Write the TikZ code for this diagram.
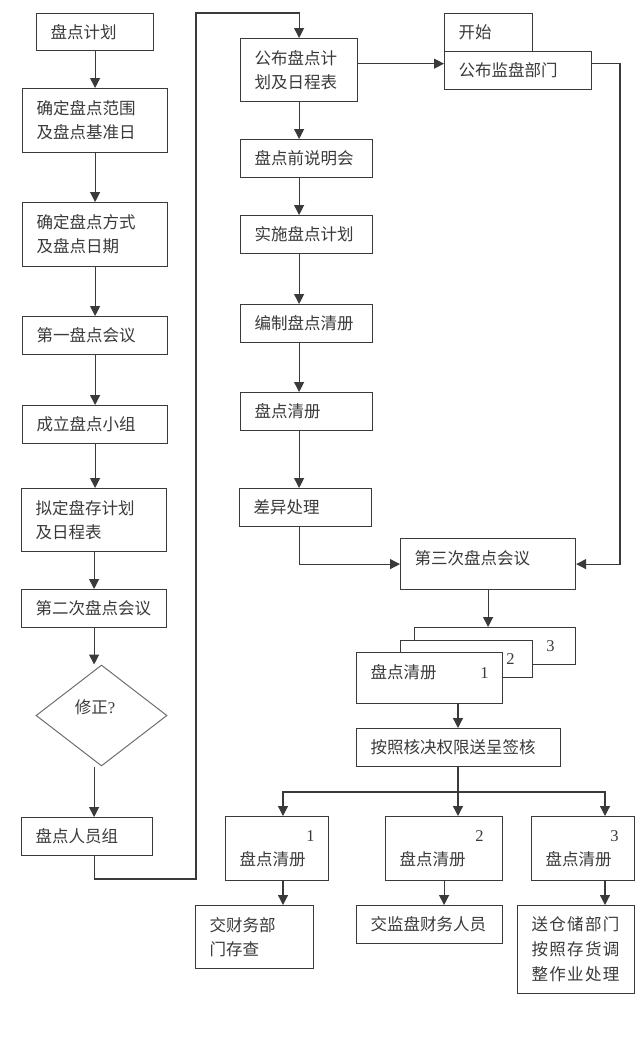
\documentclass[tikz,border=0pt]{standalone}
\usepackage{fontspec}
\setmainfont{Liberation Serif}
\newfontfamily\cjk{Noto Sans CJK SC}
\newfontfamily\cjksp[LetterSpace=8]{Noto Sans CJK SC}
\newfontfamily\dig{Liberation Serif}
\usetikzlibrary{arrows.meta,shapes.geometric,calc}
\definecolor{linec}{HTML}{3A3A3A}
\definecolor{textc}{HTML}{3A3A3A}
\definecolor{diac}{HTML}{6E6E6E}
\begin{document}
\begin{tikzpicture}[x=1pt,y=-1pt,
  box/.style={draw=linec, line width=1.2pt, fill=white, anchor=north west,
    inner xsep=14pt, inner ysep=0pt, align=left, text=textc,
    font=\fontsize{16.5}{24}\cjk},
  arr/.style={draw=linec, line width=1.2pt, -{Triangle[length=10pt,width=10pt]}},
  ln/.style={draw=linec, line width=1.2pt}]
\useasboundingbox (0,0) rectangle (640,1045);

% left column
\node[box, text width=89pt,  minimum height=37pt] (plan)  at (36,13)  {盘点计划};
\node[box, text width=117pt, minimum height=64pt] (range) at (22,88)  {确定盘点范围\\及盘点基准日};
\node[box, text width=117pt, minimum height=64pt] (mode)  at (22,202) {确定盘点方式\\及盘点日期};
\node[box, text width=117pt, minimum height=38pt] (meet1) at (22,316) {第一盘点会议};
\node[box, text width=117pt, minimum height=38pt] (group) at (22,405) {成立盘点小组};
\node[box, text width=117pt, minimum height=63pt] (draft) at (21,488) {拟定盘存计划\\及日程表};
\node[box, text width=117pt, minimum height=38pt] (meet2) at (21,589) {第二次盘点会议};
\node[draw=diac, line width=1pt, shape=diamond, minimum width=131pt, minimum height=101pt, inner sep=0pt] (dia) at (101.5,715.5) {};
\node[text=textc, font=\fontsize{16.5}{24}\cjk, inner sep=0pt] (diat) at (95,707) {修正{\dig ?}};
\node[box, text width=103pt, minimum height=38pt] (staff) at (21,817) {盘点人员组};

% middle column
\node[box, text width=89pt,  minimum height=63pt] (announce)  at (240,38)  {公布盘点计\\划及日程表};
\node[box, text width=104pt, minimum height=38pt] (brief)     at (240,139) {盘点前说明会};
\node[box, text width=104pt, minimum height=38pt] (implement) at (240,215) {实施盘点计划};
\node[box, text width=104pt, minimum height=38pt] (compile)   at (240,304) {编制盘点清册};
\node[box, text width=104pt, minimum height=38pt] (list)      at (240,392) {盘点清册};
\node[box, text width=104pt, minimum height=38pt] (diff)      at (239,488) {差异处理};

% right top
\node[box, text width=60pt,  minimum height=38pt] (start)     at (444,13) {开始};
\node[box, text width=119pt, minimum height=38pt] (supervise) at (444,51) {公布监盘部门};

\node[box, text width=147pt, minimum height=51pt, text height=13pt, text depth=13pt] (meet3) at (400,538) {第三次盘点会议};

% stacked lists
\node[box, text width=133pt, minimum height=37pt] (s3) at (414,627) {\hfill{\dig 3}\kern7pt};
\node[box, text width=104pt, minimum height=37pt] (s2) at (400,640) {\hfill{\dig 2}\kern4pt};
\node[box, text width=118pt, minimum height=51pt, text height=13pt, text depth=13pt] (s1) at (356,652) {盘点清册\hfill{\dig 1}};

\node[box, text width=176pt, minimum height=38pt] (approve) at (356,728) {按照核决权限送呈签核};

% three copies
\node[box, text width=75pt, minimum height=64pt] (c1) at (225,816) {\hfill{\dig 1}\\盘点清册};
\node[box, text width=89pt, minimum height=64pt] (c2) at (385,816) {\hfill{\dig 2}\kern5pt\\盘点清册};
\node[box, text width=75pt, minimum height=64pt] (c3) at (531,816) {\hfill{\dig 3}\kern2pt\\盘点清册};

\node[box, text width=90pt,  minimum height=63pt] (r1) at (195,905) {交财务部\\门存查};
\node[box, text width=118pt, minimum height=38pt] (r2) at (356,905) {交监盘财务人员};
\node[box, text width=89pt,  minimum height=88pt, font=\fontsize{16.5}{25}\cjksp] (r3) at (517,905) {送仓储部门\\按照存货调\\整作业处理};

% helper coordinates
\coordinate (lb) at (196,879);
\coordinate (lt) at (196,13);
\coordinate (a1) at ($(announce.north east)!0.4!(announce.south east)$);
\coordinate (rx) at (620,62);
\coordinate (br) at (458,792);
\coordinate (bl) at (283,792);
\coordinate (bR) at (605,792);

% left column connectors
\draw[arr] (plan.south) -- (range.north);
\draw[arr] (range.south) -- (mode.north);
\draw[arr] (mode.south) -- (meet1.north);
\draw[arr] (meet1.south) -- (meet1.south |- group.north);
\draw[arr] (meet1.south |- group.south) -- (meet1.south |- draft.north);
\draw[arr] (meet2.south |- draft.south) -- (meet2.north);
\draw[arr] (meet2.south) -- (meet2.south |- dia.north);
\draw[arr] (meet2.south |- dia.south) -- (meet2.south |- staff.north);
\draw[arr] (meet2.south |- staff.south) -- (meet2.south |- lb) -- (lb) -- (lt) -- (lt -| announce.north) -- (announce.north);

% middle column connectors
\draw[arr] (announce.south) -- (announce.south |- brief.north);
\draw[arr] (announce.south |- brief.south) -- (announce.south |- implement.north);
\draw[arr] (announce.south |- implement.south) -- (announce.south |- compile.north);
\draw[arr] (announce.south |- compile.south) -- (announce.south |- list.north);
\draw[arr] (announce.south |- list.south) -- (announce.south |- diff.north);
\draw[arr] (announce.south |- diff.south) -- (announce.south |- meet3.west) -- (meet3.west);

\draw[arr] (a1) -- (a1 -| supervise.west);
\draw[arr] (a1 -| supervise.east) -- (a1 -| rx) -- (rx |- meet3.east) -- (meet3.east);

\draw[arr] (meet3.south) -- (meet3.south |- s3.north);
\draw[arr] (br |- s1.south) -- (br |- approve.north);

\draw[ln] (br |- approve.south) -- (br);
\draw[arr] (br) -- (bl) -- (bl |- c1.north);
\draw[arr] (br) -- (br |- c2.north);
\draw[arr] (br) -- (bR) -- (bR |- c3.north);

\draw[arr] (bl |- c1.south) -- (bl |- r1.north);
\draw[arr] (c2.south) -- (c2.south |- r2.north);
\draw[arr] (bR |- c3.south) -- (bR |- r3.north);
\end{tikzpicture}
\end{document}
